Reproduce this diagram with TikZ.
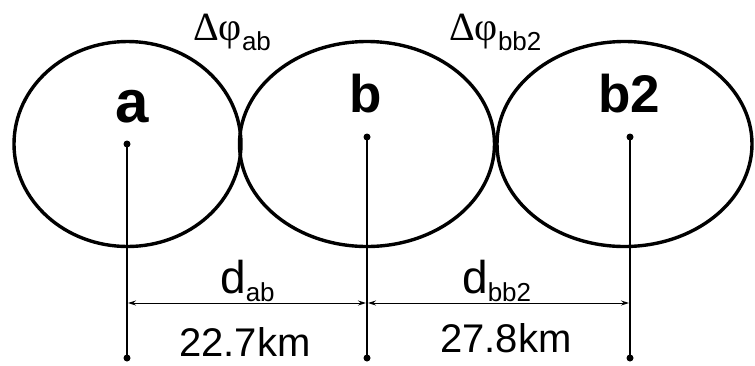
\documentclass[tikz,border=0pt]{standalone}
\usepackage{fontspec}
\setmainfont{Liberation Sans}
\newfontfamily\serifgr{Liberation Serif}
\usetikzlibrary{arrows.meta,shapes.geometric}
\begin{document}
\begin{tikzpicture}[x=1pt,y=-1pt,
  cell/.style={draw, ellipse, line width=3.4pt, inner sep=0pt},
  dotpt/.style={circle, fill=black, inner sep=0pt, minimum size=7pt},
  stem/.style={line width=2.2pt},
  dimline/.style={line width=1pt, {Stealth[length=8pt,width=5pt]}-{Stealth[length=8pt,width=5pt]}, shorten <=1pt, shorten >=1pt},
  bigname/.style={anchor=base, inner sep=0pt, font=\fontsize{53}{60}\selectfont\bfseries},
  lbl/.style={anchor=base west, inner sep=0pt}]
\useasboundingbox (0,0) rectangle (755,365);
% ellipses
\node[cell, minimum width=227pt, minimum height=205pt] (ea) at (127.5,144) {};
\node[cell, minimum width=255pt, minimum height=205pt] (eb) at (367,144) {};
\node[cell, minimum width=255pt, minimum height=205pt] (eb2) at (624.5,144) {};
% names
\node[bigname, font=\fontsize{60}{66}\selectfont\bfseries] (na) at (132,122) {a};
\node[bigname] (nb) at (366,112) {b};
\node[bigname] (nb2) at (629,112) {b2};
% dots
\node[dotpt] (ca) at (127,144) {};
\node[dotpt] (cb) at (367,137) {};
\node[dotpt] (cb2) at (630,137) {};
\node[dotpt] (ba) at (127,358) {};
\node[dotpt] (bb) at (367,358) {};
\node[dotpt] (bb2) at (630,358) {};
\draw[stem] (ca.center) -- (ba.center);
\draw[stem] (cb.center) -- (bb.center);
\draw[stem] (cb2.center) -- (bb2.center);
% dimension lines
\coordinate (da1) at (127,303);
\coordinate (da2) at (367,303);
\coordinate (da3) at (630,303);
\draw[dimline] (da1) -- (da2);
\draw[dimline] (da2) -- (da3);
% phase labels
\node[lbl] (pab) at (193,40) {\fontsize{40}{44}\selectfont\serifgr Δφ\raisebox{-10pt}{\fontsize{26}{30}\selectfont\rmfamily ab}};
\node[lbl] (pbb) at (449,40) {\fontsize{40}{44}\selectfont\serifgr Δφ\raisebox{-10pt}{\fontsize{26}{30}\selectfont\rmfamily bb2}};
% distance labels
\node[lbl] (dab) at (220,293) {\fontsize{46}{50}\selectfont d\raisebox{-8pt}{\fontsize{26}{30}\selectfont ab}};
\node[lbl] (dbb) at (462,293) {\fontsize{46}{50}\selectfont d\raisebox{-8pt}{\fontsize{26}{30}\selectfont bb2}};
\node[lbl] (kab) at (179,356) {\fontsize{40}{44}\selectfont 22.7km};
\node[lbl] (kbb) at (440,352) {\fontsize{40}{44}\selectfont 27.8km};
\end{tikzpicture}
\end{document}
